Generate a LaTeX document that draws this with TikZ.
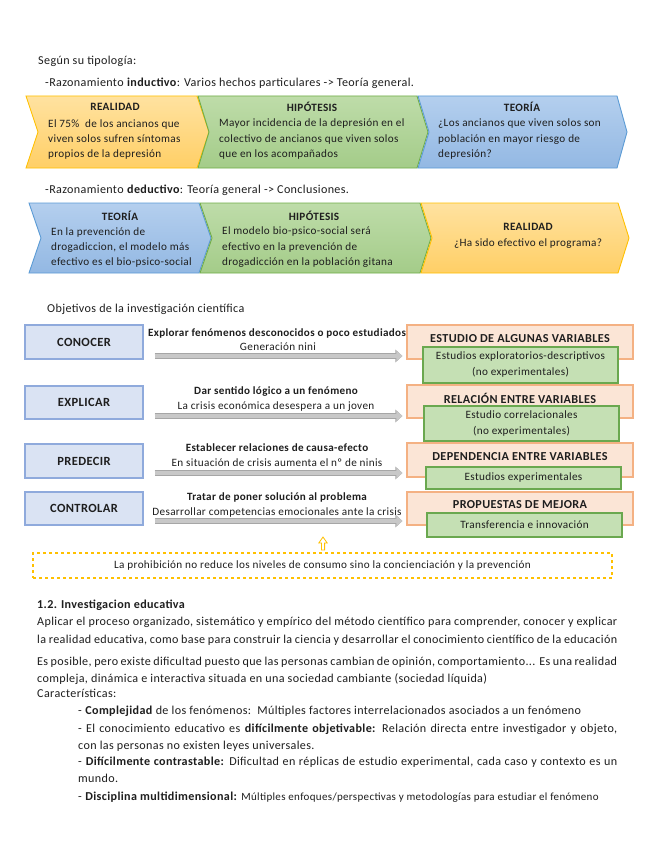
\documentclass[tikz,border=0pt]{standalone}
\usepackage{fontspec}
\setmainfont{Carlito}[LetterSpace=3]
\usetikzlibrary{arrows.meta}
\definecolor{yTop}{HTML}{FFE2A0}
\definecolor{yBot}{HTML}{FFCF66}
\definecolor{yLine}{HTML}{FFC000}
\definecolor{gTop}{HTML}{BEDCA9}
\definecolor{gBot}{HTML}{A4CC89}
\definecolor{gLine}{HTML}{70AD47}
\definecolor{bTop}{HTML}{B4CFEE}
\definecolor{bBot}{HTML}{93B8E3}
\definecolor{bLine}{HTML}{5B9BD5}
\definecolor{objFill}{HTML}{DAE3F3}
\definecolor{objLine}{HTML}{8FAADC}
\definecolor{orFill}{HTML}{FBE5D6}
\definecolor{orLine}{HTML}{F4B183}
\definecolor{grFill}{HTML}{C5E0B4}
\definecolor{grLine}{HTML}{6AA84F}
\definecolor{arFill}{HTML}{C8C8C8}
\definecolor{arLine}{HTML}{A6A6A6}
\definecolor{ink}{HTML}{1E1E1E}
\begin{document}
\begin{tikzpicture}[x=1pt,y=-1pt,
  every node/.style={text=ink},
  ychev/.style={draw=yLine,line width=0.9pt,top color=yTop,bottom color=yBot},
  gchev/.style={draw=gLine,line width=0.9pt,top color=gTop,bottom color=gBot},
  bchev/.style={draw=bLine,line width=0.9pt,top color=bTop,bottom color=bBot},
  chevtitle/.style={font=\fontsize{11.2}{12}\selectfont\bfseries,inner sep=0},
  chevtxt/.style={font=\fontsize{11.2}{12}\selectfont,anchor=base west,inner sep=0},
  bodytxt/.style={font=\fontsize{12.1}{13}\selectfont,anchor=base west,inner sep=0},
  objbox/.style={draw=objLine,fill=objFill,line width=1.2pt,minimum width=118pt,inner sep=0,font=\fontsize{12.5}{14}\selectfont\bfseries},
  orbox/.style={draw=orLine,fill=orFill,line width=1.2pt,minimum width=226pt,inner sep=0},
  orttl/.style={font=\fontsize{12.2}{14}\selectfont\bfseries,inner sep=0},
  grbox/.style={draw=grLine,fill=grFill,line width=1.2pt,minimum width=195pt,inner sep=0,align=center,font=\fontsize{11.2}{16}\selectfont},
  lblb/.style={font=\fontsize{11.1}{13}\selectfont\bfseries,inner sep=0},
  lblr/.style={font=\fontsize{11.2}{13}\selectfont,inner sep=0},
  fatarrow/.style={draw=arFill,line width=4.6pt,-{Triangle[length=6pt,width=10pt]},
     preaction={draw=arLine,line width=6.4pt,-{Triangle[length=7pt,width=12.5pt]}}}
]
\useasboundingbox[fill=white] (0,0) rectangle (655,848);

% ---------- header ----------
\node[bodytxt] (h1) at (38,64.5) {Según su tipología:};
\node[bodytxt] (h2) at (45,86.5) {-Razonamiento \textbf{inductivo}: Varios hechos particulares -> Teoría general.};

% ---------- inductive row ----------
\path[ychev] (26,96) -- (197,96) -- (209,132) -- (197,168) -- (26,168) -- (38,132) -- cycle;
\path[gchev] (198,96) -- (417,96) -- (428,132) -- (417,168) -- (198,168) -- (209,132) -- cycle;
\path[bchev] (418,96) -- (617,96) -- (627,132) -- (617,168) -- (418,168) -- (429,132) -- cycle;

\node[chevtitle] (t1) at (115,107) {REALIDAD};
\node[chevtxt] at (48,127.5) {El 75\%\ \ de los ancianos que};
\node[chevtxt] at (48,142.5) {viven solos sufren síntomas};
\node[chevtxt] at (48,157.5) {propios de la depresión};

\node[chevtitle] (t2) at (312,107) {HIPÓTESIS};
\node[chevtxt] at (219,126.5) {Mayor incidencia de la depresión en el};
\node[chevtxt] at (219,142.5) {colectivo de ancianos que viven solos};
\node[chevtxt] at (219,157.5) {que en los acompañados};

\node[chevtitle] (t3) at (522,107) {TEORÍA};
\node[chevtxt] at (438,126.5) {¿Los ancianos que viven solos son};
\node[chevtxt] at (438,142.5) {población en mayor riesgo de};
\node[chevtxt] at (438,157.5) {depresión?};

% ---------- deductive row ----------
\node[bodytxt] (h3) at (45,193) {-Razonamiento \textbf{deductivo}: Teoría general -> Conclusiones.};

\path[bchev] (29,203) -- (199,203) -- (211,238) -- (199,273) -- (29,273) -- (41,238) -- cycle;
\path[gchev] (200,203) -- (420,203) -- (431,238) -- (420,273) -- (200,273) -- (212,238) -- cycle;
\path[ychev] (421,203) -- (618,203) -- (629,238) -- (618,273) -- (421,273) -- (432,238) -- cycle;

\node[chevtitle] (t4) at (120,216) {TEORÍA};
\node[chevtxt] at (51,235.5) {En la prevención de};
\node[chevtxt] at (51,250.5) {drogadiccion, el modelo más};
\node[chevtxt] at (51,265.5) {efectivo es el bio-psico-social};

\node[chevtitle] (t5) at (314,216) {HIPÓTESIS};
\node[chevtxt] at (222,234.5) {El modelo bio-psico-social será};
\node[chevtxt] at (222,250.5) {efectivo en la prevención de};
\node[chevtxt] at (222,265.5) {drogadicción en la población gitana};

\node[chevtitle] (t6) at (528,227) {REALIDAD};
\node[chevtxt,anchor=base] at (528,246.5) {¿Ha sido efectivo el programa?};

% ---------- objectives ----------
\node[bodytxt] (h4) at (47,312.5) {Objetivos de la investigación científica};

\node[objbox,minimum height=34pt] (c1) at (84,342) {CONOCER};
\node[objbox,minimum height=33pt] (c2) at (84,402.5) {EXPLICAR};
\node[objbox,minimum height=34pt] (c3) at (84,461) {PREDECIR};
\node[objbox,minimum height=33pt] (c4) at (84,508.5) {CONTROLAR};

\node[orbox,minimum height=34pt] (o1) at (520,342) {};
\node[orbox,minimum height=33pt] (o2) at (520,401.5) {};
\node[orbox,minimum height=34pt] (o3) at (520,460) {};
\node[orbox,minimum height=33pt] (o4) at (520,508.5) {};
\node[orttl] at (520,339) {ESTUDIO DE ALGUNAS VARIABLES};
\node[orttl] at (520,398) {RELACIÓN ENTRE VARIABLES};
\node[orttl] at (520,457) {DEPENDENCIA ENTRE VARIABLES};
\node[orttl] at (520,505) {PROPUESTAS DE MEJORA};

\node[grbox,minimum height=36pt] (g1) at (520.5,365) {Estudios exploratorios-descriptivos\\(no experimentales)};
\node[grbox,minimum height=35pt] (g2) at (521.5,423.5) {Estudio correlacionales\\(no experimentales)};
\node[grbox,minimum height=22pt] (g3) at (523.5,478) {Estudios experimentales};
\node[grbox,minimum height=24pt] (g4) at (524.5,525) {Transferencia e innovación};

\draw[fatarrow] ([shift={(11,14)}]c1.east) -- ([shift={(-4,14)}]o1.west);
\draw[fatarrow] ([shift={(11,13.5)}]c2.east) -- ([shift={(-4,14.5)}]o2.west);
\draw[fatarrow] ([shift={(11,12)}]c3.east) -- ([shift={(-4,13)}]o3.west);
\draw[fatarrow] ([shift={(11,12.5)}]c4.east) -- ([shift={(-4,12.5)}]o4.west);

\node[lblb] at (277,333) {Explorar fenómenos desconocidos o poco estudiados};
\node[lblr] at (278,347) {Generación nini};
\node[lblb] at (276,392) {Dar sentido lógico a un fenómeno};
\node[lblr] at (276,407) {La crisis económica desespera a un joven};
\node[lblb] at (277,448) {Establecer relaciones de causa-efecto};
\node[lblr] at (277,463) {En situación de crisis aumenta el nº de ninis};
\node[lblb] at (277,497) {Tratar de poner solución al problema};
\node[lblr] at (277,513) {Desarrollar competencias emocionales ante la crisis};

\node[draw=yLine,dashed,line width=1.2pt,minimum width=579pt,minimum height=25pt,inner sep=0,
      font=\fontsize{11.2}{12}\selectfont] (db) at (322.5,565.5) {La prohibición no reduce los niveles de consumo sino la concienciación y la prevención};
\coordinate (up) at (323,550);
\draw[draw=yLine,fill=white,line width=0.8pt] (up) -- ++(-1.6,0) -- ++(0,-7) -- ++(-2.6,0) -- ++(4.2,-6) -- ++(4.2,6) -- ++(-2.6,0) -- ++(0,7) -- cycle;

% ---------- 1.2 section ----------
\node[bodytxt,font=\fontsize{12.1}{13}\selectfont\bfseries] at (37,608.5) {1.2. Investigacion educativa};
\node[bodytxt] at (37,625.5) {\makebox[580pt][s]{Aplicar el proceso organizado, sistemático y empírico del método científico para comprender, conocer y explicar}};
\node[bodytxt] at (37,643.5) {\makebox[580pt][s]{la realidad educativa, como base para construir la ciencia y desarrollar el conocimiento científico de la educación}};
\node[bodytxt] at (37,665.5) {\makebox[580pt][s]{Es posible, pero existe dificultad puesto que las personas cambian de opinión, comportamiento... Es una realidad}};
\node[bodytxt] at (37,682.5) {compleja, dinámica e interactiva situada en una sociedad cambiante (sociedad líquida)};
\node[bodytxt] at (37,697.5) {Características:};
\node[bodytxt] at (78,714.5) {- \textbf{Complejidad} de los fenómenos:\ \ Múltiples factores interrelacionados asociados a un fenómeno};
\node[bodytxt] at (78,732.5) {\makebox[539pt][s]{- El conocimiento educativo es \textbf{difícilmente objetivable:} Relación directa entre investigador y objeto,}};
\node[bodytxt] at (78,749.5) {con las personas no existen leyes universales.};
\node[bodytxt] at (78,765.5) {\makebox[539pt][s]{- \textbf{Difícilmente contrastable:} Dificultad en réplicas de estudio experimental, cada caso y contexto es un}};
\node[bodytxt] at (78,782.5) {mundo.};
\node[bodytxt] at (78,800.5) {- \textbf{Disciplina multidimensional:} {\fontsize{11}{12}\selectfont Múltiples enfoques/perspectivas y metodologías para estudiar el fenómeno}};
\end{tikzpicture}
\end{document}
